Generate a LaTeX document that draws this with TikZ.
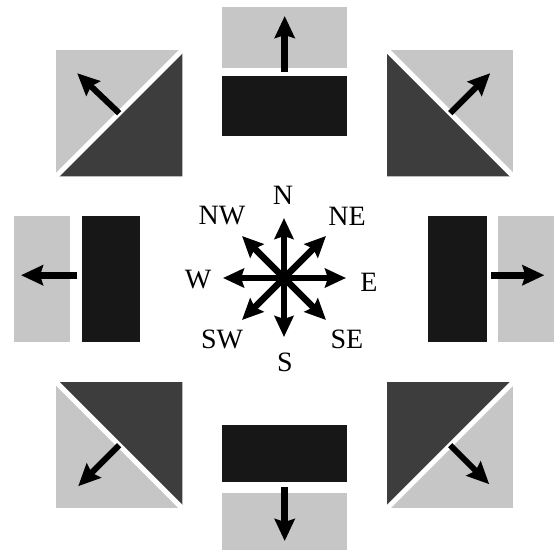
\documentclass[tikz,border=0pt]{standalone}
\usepackage{fontspec}
\setmainfont{Liberation Serif}
\usepackage{tikz}
\usetikzlibrary{arrows.meta,calc}

\begin{document}
\begin{tikzpicture}[
    x=1pt, y=-1pt,
    lite/.style={rectangle, fill=gray!45, inner sep=0pt, anchor=north west},
    dark/.style={rectangle, fill=black!91, inner sep=0pt, anchor=north west},
    corner/.style={rectangle, fill=gray!45, inner sep=0pt, anchor=north west, minimum size=126pt},
    wedge/.style={fill=black!76},
    gap/.style={draw=white, line width=5pt},
    push/.style={-{Stealth[length=22pt, width=20pt, inset=3pt]}, line width=7pt},
    needle/.style={-{Stealth[length=21pt, width=19pt, inset=3pt]}, line width=6.5pt},
    dirlabel/.style={inner sep=0pt, font=\fontsize{28}{32}\selectfont}
]
    \useasboundingbox (0,0) rectangle (556,549);

    % straight panels
    \node [lite, minimum width=125pt, minimum height=61pt] (uplite) at (222,7) {};
    \node [dark, minimum width=125pt, minimum height=60pt] (updark) at (222,76) {};
    \node [dark, minimum width=125pt, minimum height=57pt] (downdark) at (222,425) {};
    \node [lite, minimum width=125pt, minimum height=60pt] (downlite) at (222,493) {};
    \node [lite, minimum width=56pt, minimum height=126pt] (leftlite) at (14,216) {};
    \node [dark, minimum width=58pt, minimum height=126pt] (leftdark) at (82,216) {};
    \node [dark, minimum width=59pt, minimum height=126pt] (rightdark) at (428,216) {};
    \node [lite, minimum width=56pt, minimum height=126pt] (rightlite) at (498,216) {};

    % diagonal panels
    \node [corner] (nw) at (56,50) {};
    \node [corner] (ne) at (387,50) {};
    \node [corner] (sw) at (56,382) {};
    \node [corner] (se) at (387,382) {};
    \fill [wedge] (nw.south west) -- (nw.north east) -- (nw.south east) -- cycle;
    \fill [wedge] (ne.north west) -- (ne.south east) -- (ne.south west) -- cycle;
    \fill [wedge] (sw.north west) -- (sw.south east) -- (sw.north east) -- cycle;
    \fill [wedge] (se.south west) -- (se.north east) -- (se.north west) -- cycle;
    \draw [gap] (nw.south west) -- (nw.north east);
    \draw [gap] (ne.north west) -- (ne.south east);
    \draw [gap] (sw.north west) -- (sw.south east);
    \draw [gap] (se.south west) -- (se.north east);

    % outward arrows
    \draw [push] ($(uplite.south)+(0,4)$) -- ($(uplite.north)+(0,9)$);
    \draw [push] ($(downlite.north)+(0,-6)$) -- ($(downlite.north)+(0,48)$);
    \draw [push] ($(leftlite.east)+(7,-4)$) -- ($(leftlite.west)+(7,-4)$);
    \draw [push] ($(rightlite.west)+(-7,-4)$) -- ($(rightlite.east)+(-10,-4)$);
    \draw [push, line width=6pt] (nw.center) -- ($(nw.center)+(-42,-40)$);
    \draw [push, line width=6pt] (ne.center) -- ($(ne.center)+(40,-40)$);
    \draw [push, line width=6pt] (sw.center) -- ($(sw.center)+(-41,41)$);
    \draw [push, line width=6pt] (se.center) -- ($(se.center)+(39,39)$);

    % compass
    \coordinate (hub) at (284,278);
    \foreach \dir/\tx/\ty/\lx/\ly in {N/0/-60/-1/-83, S/0/59/1/84, E/62/0/85/4, W/-61/0/-86/2,
                                      NE/42/-42/63/-62, NW/-42/-42/-62/-62, SE/42/42/63/61, SW/-42/42/-62/61}
    {
        \draw [needle] (hub) -- ++(\tx,\ty) coordinate (tip\dir);
        \node [dirlabel] (lab\dir) at ($(hub)+(\lx,\ly)$) {\dir};
    }
\end{tikzpicture}
\end{document}
